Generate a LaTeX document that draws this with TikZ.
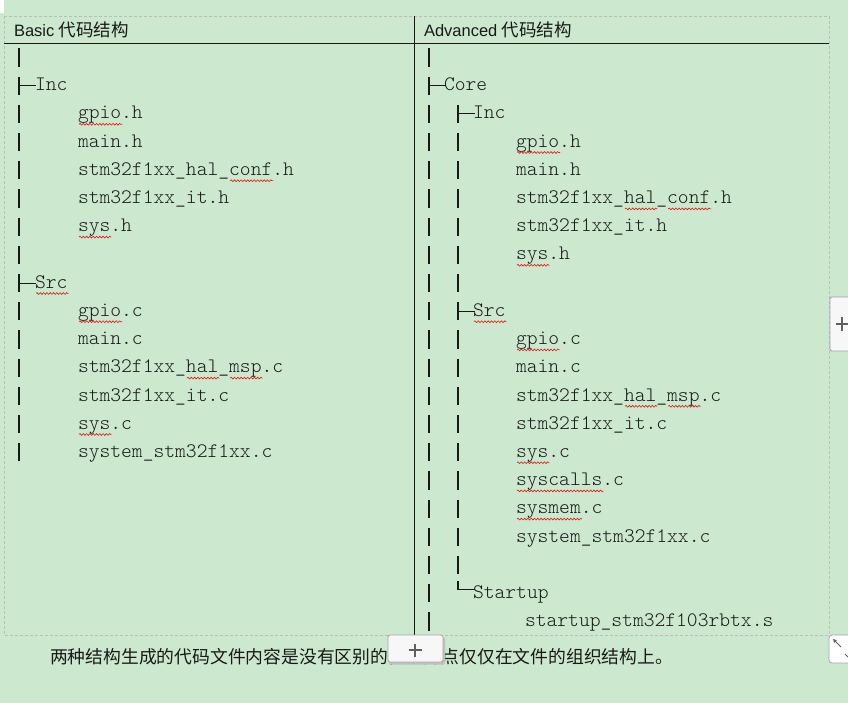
\documentclass[tikz,border=0pt]{standalone}
\usepackage{fontspec}
\setmainfont{Liberation Sans}
\setmonofont{lmmonolt10-regular.otf}
\newfontfamily\cjk{Noto Sans CJK SC}
\usetikzlibrary{decorations.pathmorphing,arrows.meta}
\definecolor{bg}{RGB}{204,232,207}
\definecolor{ink}{RGB}{25,25,25}
\definecolor{tblborder}{RGB}{185,190,185}
\definecolor{spell}{RGB}{230,20,20}
\definecolor{btnfill}{RGB}{247,247,247}
\definecolor{btnedge}{RGB}{165,165,165}
\definecolor{plusc}{RGB}{95,95,95}
\tikzset{
  code/.style={anchor=base west, inner sep=0pt, outer sep=0pt, font=\fontsize{20.57}{20.57}\selectfont\ttfamily, text=ink},
  head/.style={anchor=base west, inner sep=0pt, outer sep=0pt, font=\fontsize{16.5}{16.5}\selectfont, text=ink},
  note/.style={anchor=base west, inner sep=0pt, outer sep=0pt, font=\cjk\fontsize{17.8}{17.8}\selectfont, text=ink},
  treeline/.style={line width=1.25pt, draw=ink},
  squiggle/.style={draw=spell, line width=0.6pt, decorate, decoration={snake, segment length=3.3pt, amplitude=0.9pt}},
  btn/.style={draw=btnedge, fill=btnfill, line width=0.8pt, rounded corners=2pt},
  plussign/.style={draw=plusc, line width=1.2pt},
}
\newcommand\vbar[2]{% x, row
  \pgfmathsetmacro\yb{62.6+28.2*#2}
  \draw[treeline] (#1,\yb-14.2) -- (#1,\yb+4);}
\newcommand\tee[2]{%
  \pgfmathsetmacro\yb{62.6+28.2*#2}
  \draw[treeline] (#1,\yb-14.2) -- (#1,\yb+4);
  \draw[treeline, line width=1pt] (#1,\yb-5) -- ({#1+17},\yb-5);}
\newcommand\corner[2]{%
  \pgfmathsetmacro\yb{62.6+28.2*#2}
  \draw[treeline] (#1,\yb-17) -- (#1,\yb-9) -- ({#1+17},\yb-9);}
\newcommand\wavyunder[4]{% x0, row, start char, length
  \pgfmathsetmacro\yb{62.6+28.2*#2+5.3}
  \pgfmathsetmacro\xa{#1+1+10.8*#3}
  \pgfmathsetmacro\xb{#1+1+10.8*(#3+#4)}
  \draw[squiggle] (\xa,\yb) -- (\xb,\yb);}
\begin{document}
\begin{tikzpicture}[x=1pt,y=-1pt]
\useasboundingbox (0,0) rectangle (848,703);
\fill[bg] (0,0) rectangle (848,703);
\fill[white] (0,0) rectangle (4,13);
% table frame
\draw[tblborder, line width=0.8pt, dash pattern=on 3pt off 2pt] (4,16) rectangle (829,635);
\draw[ink, line width=1pt] (4,44) -- (829,44);
\draw[ink, line width=1pt] (414,16) -- (414,635);
% headers
\node[head] (hL) at (14,36.5) {Basic {\cjk\fontsize{17.5}{17.5}\selectfont 代码结构}};
\node[head] (hR) at (424,36.5) {Advanced {\cjk\fontsize{17.5}{17.5}\selectfont 代码结构}};
% left tree lines
\foreach \r in {0,2,3,4,5,6,7,9,10,11,12,13,14} {\vbar{19}{\r}}
\tee{19}{1}
\tee{19}{8}
% right tree lines
\foreach \r in {0,2,3,...,20} {\vbar{429}{\r}}
\tee{429}{1}
\foreach \r in {3,4,5,6,7,8,10,11,12,13,14,15,16,17,18} {\vbar{458}{\r}}
\tee{458}{2}
\tee{458}{9}
\corner{458}{19}
% left texts
\foreach \r/\t/\x in {1/Inc/35, 2/gpio.h/78, 3/main.h/78, 4/stm32f1xx\_hal\_conf.h/78,
  5/stm32f1xx\_it.h/78, 6/sys.h/78, 8/Src/35, 9/gpio.c/78, 10/main.c/78,
  11/stm32f1xx\_hal\_msp.c/78, 12/stm32f1xx\_it.c/78, 13/sys.c/78, 14/system\_stm32f1xx.c/78}
  {\pgfmathsetmacro\yb{62.6+28.2*\r}
   \node[code] (L\r) at (\x,\yb) {\t};}
% right texts
\foreach \r/\t/\x in {1/Core/444, 2/Inc/473, 3/gpio.h/516, 4/main.h/516,
  5/stm32f1xx\_hal\_conf.h/516, 6/stm32f1xx\_it.h/516, 7/sys.h/516, 9/Src/473,
  10/gpio.c/516, 11/main.c/516, 12/stm32f1xx\_hal\_msp.c/516, 13/stm32f1xx\_it.c/516,
  14/sys.c/516, 15/syscalls.c/516, 16/sysmem.c/516, 17/system\_stm32f1xx.c/516,
  19/Startup/473, 20/startup\_stm32f103rbtx.s/525}
  {\pgfmathsetmacro\yb{62.6+28.2*\r}
   \node[code] (R\r) at (\x,\yb) {\t};}
% spell-check underlines
\wavyunder{78}{2}{0}{4}
\wavyunder{78}{4}{14}{4}
\wavyunder{78}{6}{0}{3}
\wavyunder{35}{8}{0}{3}
\wavyunder{78}{9}{0}{4}
\wavyunder{78}{11}{10}{3}
\wavyunder{78}{11}{14}{3}
\wavyunder{78}{13}{0}{3}
\wavyunder{516}{3}{0}{4}
\wavyunder{516}{5}{10}{3}
\wavyunder{516}{5}{14}{4}
\wavyunder{516}{7}{0}{3}
\wavyunder{473}{9}{0}{3}
\wavyunder{516}{10}{0}{4}
\wavyunder{516}{12}{10}{3}
\wavyunder{516}{12}{14}{3}
\wavyunder{516}{14}{0}{3}
\wavyunder{516}{15}{0}{8}
\wavyunder{516}{16}{0}{6}
% note below the table
\node[note] (noteL) at (50,663) {两种结构生成的代码文件内容是没有区别的，差异点仅仅在文件的组织结构上。};
% editor buttons
\draw[btn] (830,297) rectangle (854,351);
\draw[plussign] (836,324) -- (850,324) (842,317) -- (842,331);
\fill[black!25, rounded corners=2pt] (389,637) rectangle (445,664.5);
\draw[btn] (388,635) rectangle (443,662);
\draw[plussign] (408.5,650) -- (421.5,650) (415,643.5) -- (415,656.5);
\draw[btn, fill=white, rounded corners=3pt] (829,635) rectangle (854,663);
\draw[plusc, line width=1pt, -{Stealth[length=4pt,width=4pt]}] (841,647) -- (833,639);
\draw[plusc, line width=1pt] (845,654) -- (849,658);
\end{tikzpicture}
\end{document}
